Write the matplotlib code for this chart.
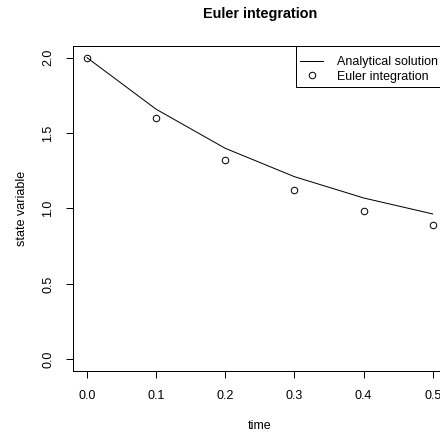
import numpy as np
import matplotlib
matplotlib.use("Agg")
import matplotlib.pyplot as plt

plt.rcParams['font.family'] = ['Liberation Sans', 'DejaVu Sans']

# time grid and the two solutions of the decay problem
time = [0.0, 0.1, 0.2, 0.3, 0.4, 0.5]
analytical = [2.0, 1.658, 1.399, 1.211, 1.070, 0.964]
euler = [2.0, 1.600, 1.320, 1.123, 0.985, 0.890]

xticks = [0.0, 0.1, 0.2, 0.3, 0.4, 0.5]
yticks = [0.0, 0.5, 1.0, 1.5, 2.0]

W, H = 440, 434
fs = 12.5
fig = plt.figure(figsize=(W / 72, H / 72), dpi=72)
# plot region runs past the right edge of the image
ax = fig.add_axes([73.2 / W, (H - 371.4) / H, 373.3 / W, 325.8 / H])

ax.plot(time, analytical, color='black', lw=1.0, label='Analytical solution')
ax.plot(time, euler, ls='none', marker='o', ms=6.5, mfc='none', mec='black',
        mew=1.0, label='Euler integration')

# R-style 4% padding around the data range
ax.set_xlim(-0.02, 0.52)
ax.set_ylim(-0.08, 2.08)
ax.set_xticks(xticks)
ax.set_xticklabels([f'{v:.1f}' for v in xticks])
ax.set_yticks(yticks)
ax.set_yticklabels([f'{v:.1f}' for v in yticks], rotation=90, va='center')
ax.tick_params(direction='out', length=7, width=1.0, labelsize=fs,
               color='black')
ax.tick_params(axis='x', pad=12)
ax.tick_params(axis='y', pad=12)
for s in ax.spines.values():
    s.set_linewidth(1.0)

ax.set_xlabel('time', fontsize=fs, labelpad=18)
ax.set_ylabel('state variable', fontsize=fs, labelpad=14)
ax.set_title('Euler integration', fontsize=14.4, fontweight='bold', pad=28)

# blank tiny title gives the extra room above the first entry
leg = ax.legend(loc='upper left', bbox_to_anchor=((296 - 73.2) / 373.3, 1.0),
                borderaxespad=0, fancybox=False, edgecolor='black',
                framealpha=1, fontsize=fs, handlelength=1.86,
                handletextpad=1.1, labelspacing=0.2, borderpad=0.32,
                title=' ', title_fontsize=4)
leg.get_frame().set_linewidth(1.0)

fig.savefig('out.png', dpi=72)
